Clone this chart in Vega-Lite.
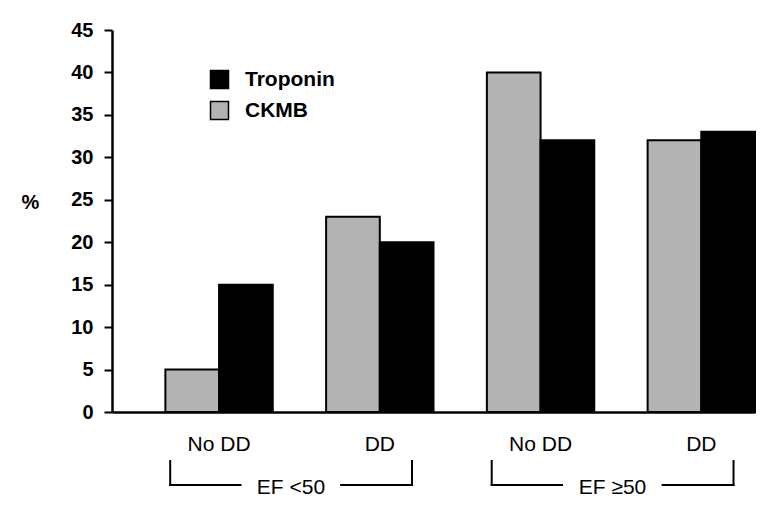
{
  "$schema": "https://vega.github.io/schema/vega-lite/v6.json",
  "width": 643,
  "height": 382,
  "autosize": {"type": "none"},
  "padding": {"left": 112, "top": 30, "right": 24, "bottom": 100},
  "background": "white",
  "config": {
    "view": {"stroke": null},
    "font": "Liberation Sans",
    "axis": {"labelFont": "Liberation Sans", "titleFont": "Liberation Sans"}
  },
  "datasets": {
    "bars": [
      {"group": "EF <50 No DD", "marker": "CKMB", "value": 5},
      {"group": "EF <50 No DD", "marker": "Troponin", "value": 15},
      {"group": "EF <50 DD", "marker": "CKMB", "value": 23},
      {"group": "EF <50 DD", "marker": "Troponin", "value": 20},
      {"group": "EF ≥50 No DD", "marker": "CKMB", "value": 40},
      {"group": "EF ≥50 No DD", "marker": "Troponin", "value": 32},
      {"group": "EF ≥50 DD", "marker": "CKMB", "value": 32},
      {"group": "EF ≥50 DD", "marker": "Troponin", "value": 33}
    ],
    "subs": [
      {"group": "EF <50 No DD", "sub": "No DD"},
      {"group": "EF <50 DD", "sub": "DD"},
      {"group": "EF ≥50 No DD", "sub": "No DD"},
      {"group": "EF ≥50 DD", "sub": "DD"}
    ],
    "brackets": [
      {"ef": "EF <50", "first": "EF <50 No DD", "second": "EF <50 DD"},
      {"ef": "EF ≥50", "first": "EF ≥50 No DD", "second": "EF ≥50 DD"}
    ]
  },
  "layer": [
    {
      "data": {"name": "bars"},
      "mark": {"type": "bar", "stroke": "black", "strokeWidth": 2},
      "encoding": {
        "x": {
          "field": "group", "type": "nominal",
          "scale": {"domain": ["EF <50 No DD", "EF <50 DD", "EF ≥50 No DD", "EF ≥50 DD"], "paddingInner": 0.332, "paddingOuter": 0.166, "align": 1},
          "axis": {"labels": false, "ticks": false, "title": null, "domain": true, "domainColor": "black", "domainWidth": 2.5}
        },
        "xOffset": {"field": "marker", "type": "nominal", "scale": {"domain": ["CKMB", "Troponin"], "paddingInner": 0, "paddingOuter": 0}},
        "y": {
          "field": "value", "type": "quantitative",
          "scale": {"domain": [0, 45], "nice": false},
          "axis": {
            "values": [0, 5, 10, 15, 20, 25, 30, 35, 40, 45],
            "grid": false,
            "domainColor": "black", "domainWidth": 2.5,
            "tickColor": "black", "tickWidth": 2, "tickSize": 8,
            "labelFontSize": 20, "labelFontWeight": "bold", "labelColor": "black", "labelPadding": 11,
            "title": "%", "titleAngle": 0, "titleFontSize": 20, "titleFontWeight": "bold", "titleColor": "black",
            "titleAlign": "center", "titleBaseline": "middle", "titleX": -82, "titleY": 172
          }
        },
        "color": {
          "field": "marker", "type": "nominal",
          "scale": {"domain": ["Troponin", "CKMB"], "range": ["#000000", "#b3b3b3"]},
          "legend": {
            "title": null, "orient": "none", "legendX": 97, "legendY": 39,
            "symbolType": "square", "symbolSize": 324, "symbolStrokeColor": "black", "symbolStrokeWidth": 1.5,
            "labelFontSize": 21, "labelFontWeight": "bold", "labelColor": "black", "labelOffset": 15,
            "rowPadding": 6
          }
        }
      }
    },
    {
      "data": {"name": "subs"},
      "mark": {"type": "text", "fontSize": 21, "fontWeight": "normal", "color": "black", "baseline": "middle", "align": "center"},
      "encoding": {
        "x": {"field": "group", "type": "nominal", "bandPosition": 0.5},
        "y": {"datum": -3.83, "type": "quantitative"},
        "text": {"field": "sub"}
      }
    },
    {
      "data": {"name": "brackets"},
      "mark": {"type": "text", "fontSize": 21, "fontWeight": "normal", "color": "black", "baseline": "middle", "align": "center"},
      "encoding": {
        "x": {"field": "first", "type": "nominal", "bandPosition": 1.17},
        "y": {"datum": -8.9, "type": "quantitative"},
        "text": {"field": "ef"}
      }
    },
    {
      "data": {"name": "brackets"},
      "mark": {"type": "rule", "color": "black", "strokeWidth": 2, "strokeCap": "square"},
      "encoding": {
        "x": {"field": "first", "type": "nominal", "bandPosition": 0.045},
        "y": {"datum": -5.77, "type": "quantitative"},
        "y2": {"datum": -8.6}
      }
    },
    {
      "data": {"name": "brackets"},
      "mark": {"type": "rule", "color": "black", "strokeWidth": 2, "strokeCap": "square"},
      "encoding": {
        "x": {"field": "second", "type": "nominal", "bandPosition": 0.8},
        "y": {"datum": -5.77, "type": "quantitative"},
        "y2": {"datum": -8.6}
      }
    },
    {
      "data": {"name": "brackets"},
      "mark": {"type": "rule", "color": "black", "strokeWidth": 2, "strokeCap": "square"},
      "encoding": {
        "x": {"field": "first", "type": "nominal", "bandPosition": 0.045},
        "x2": {"field": "first", "bandPosition": 0.70},
        "y": {"datum": -8.6, "type": "quantitative"}
      }
    },
    {
      "data": {"name": "brackets"},
      "mark": {"type": "rule", "color": "black", "strokeWidth": 2, "strokeCap": "square"},
      "encoding": {
        "x": {"field": "second", "type": "nominal", "bandPosition": 0.14},
        "x2": {"field": "second", "bandPosition": 0.8},
        "y": {"datum": -8.6, "type": "quantitative"}
      }
    }
  ]
}
